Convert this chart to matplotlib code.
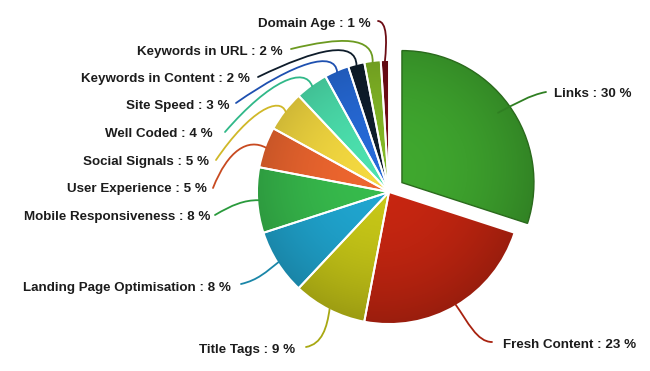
import numpy as np
import matplotlib
matplotlib.use("Agg")
import matplotlib.pyplot as plt
from matplotlib.path import Path
from matplotlib.patches import PathPatch
from matplotlib.colors import to_rgb

# ---------------- data ----------------
categories = ["Links", "Fresh Content", "Title Tags", "Landing Page Optimisation",
              "Mobile Responsiveness", "User Experience", "Social Signals",
              "Well Coded", "Site Speed", "Keywords in Content",
              "Keywords in URL", "Domain Age"]
values = [30, 23, 9, 8, 8, 5, 5, 4, 3, 2, 2, 1]

# ---------------- styles / layout ----------------
colors = ["#3c9e2c", "#bc2410", "#bcbc16", "#1e9cc4", "#34b048", "#e0602c",
          "#e6cc3c", "#48d4a4", "#2464cc", "#0e1c2a", "#7cae24", "#6c0c14"]
line_colors = ["#2f7f22", "#a8220f", "#a8a812", "#1a86a8", "#2a9a3c", "#c84a20",
               "#d0b828", "#30b888", "#1e50b0", "#0e1c2a", "#6c9a20", "#6c0c14"]

W, H = 650, 371
# label anchor positions in pixel coords (origin top-left) and alignment
label_pos = [(554, 94), (503, 345), (295, 350), (231, 288), (210, 217), (207, 189),
             (209, 162), (213, 134), (230, 106), (250, 79), (283, 52), (371, 24)]
label_ha = ["left", "left", "right", "right", "right", "right",
            "right", "right", "right", "right", "right", "right"]
# leader line: end near label, two control points (pixel coords)
leader = [
    ((546, 92), (530, 95), (515, 104)),
    ((492, 342), (477, 342), (468, 322)),
    ((306, 347), (322, 344), (327, 328)),
    ((241, 284), (258, 280), (266, 272)),
    ((215, 215), (232, 205), (244, 200)),
    ((213, 188), (228, 150), (248, 138)),
    ((216, 160), (250, 110), (280, 96)),
    ((225, 132), (270, 80), (305, 66)),
    ((236, 103), (295, 62), (335, 50)),
    ((258, 77), (318, 48), (356, 40)),
    ((291, 49), (340, 37), (374, 36)),
    ((378, 21), (387, 22), (387, 40)),
]
attach_r = [0.9] + [0.99] * 11

CX, CY, R = 389, H - 192, 132
explode = [16] + [0] * 11


def px(p):
    return (p[0], H - p[1])


fig = plt.figure(figsize=(6.5, 3.71), dpi=100)
fig.patch.set_facecolor("white")
ax = fig.add_axes([0, 0, 1, 1])

wedges, _ = ax.pie(values, colors=colors, startangle=90, counterclock=False,
                   explode=explode, center=(CX, CY), radius=R,
                   wedgeprops=dict(edgecolor="white", linewidth=1.4))

# gradient shading clipped to each wedge
for i, w in enumerate(wedges):
    cx, cy = w.center
    r = w.r
    n = 300
    xs = np.linspace(cx - r, cx + r, n)
    ys = np.linspace(cy - r, cy + r, n)
    X, Y = np.meshgrid(xs, ys)
    t = np.hypot(X - cx, Y - cy) / r
    d = ((X - cx) * (-0.5) + (Y - cy) * 0.8) / r
    shade = 1.06 - 0.2 * t ** 2 + 0.05 * d
    base = np.array(to_rgb(colors[i]))
    img = np.clip(base[None, None, :] * shade[..., None], 0, 1)
    im = ax.imshow(img, extent=[cx - r, cx + r, cy - r, cy + r], origin="lower",
                   zorder=1, interpolation="bilinear")
    im.set_clip_path(w)
    w.set_facecolor("none")
    w.set_zorder(2)
wedges[0].set_edgecolor("#2a6a1c")
wedges[0].set_linewidth(1.0)

# leader lines and labels
for i, w in enumerate(wedges):
    cx, cy = w.center
    tm = np.deg2rad(0.5 * (w.theta1 + w.theta2))
    p0 = (cx + attach_r[i] * w.r * np.cos(tm), cy + attach_r[i] * w.r * np.sin(tm))
    e, c1, c2 = leader[i]
    path = Path([px(e), px(c1), px(c2), p0],
                [Path.MOVETO, Path.CURVE4, Path.CURVE4, Path.CURVE4])
    ax.add_patch(PathPatch(path, facecolor="none", edgecolor=line_colors[i],
                           linewidth=1.3, zorder=3, capstyle="round"))
    lx, ly = px(label_pos[i])
    ax.text(lx, ly, f"{categories[i]} : {values[i]} %", ha=label_ha[i], va="center",
            fontsize=9.6, fontweight="bold", family=["Liberation Sans", "DejaVu Sans"],
            color="#1c1c1c", zorder=4)

ax.set_xlim(0, W)
ax.set_ylim(0, H)
ax.set_aspect("equal")
ax.axis("off")
fig.savefig("out.png", dpi=100, facecolor="white")
